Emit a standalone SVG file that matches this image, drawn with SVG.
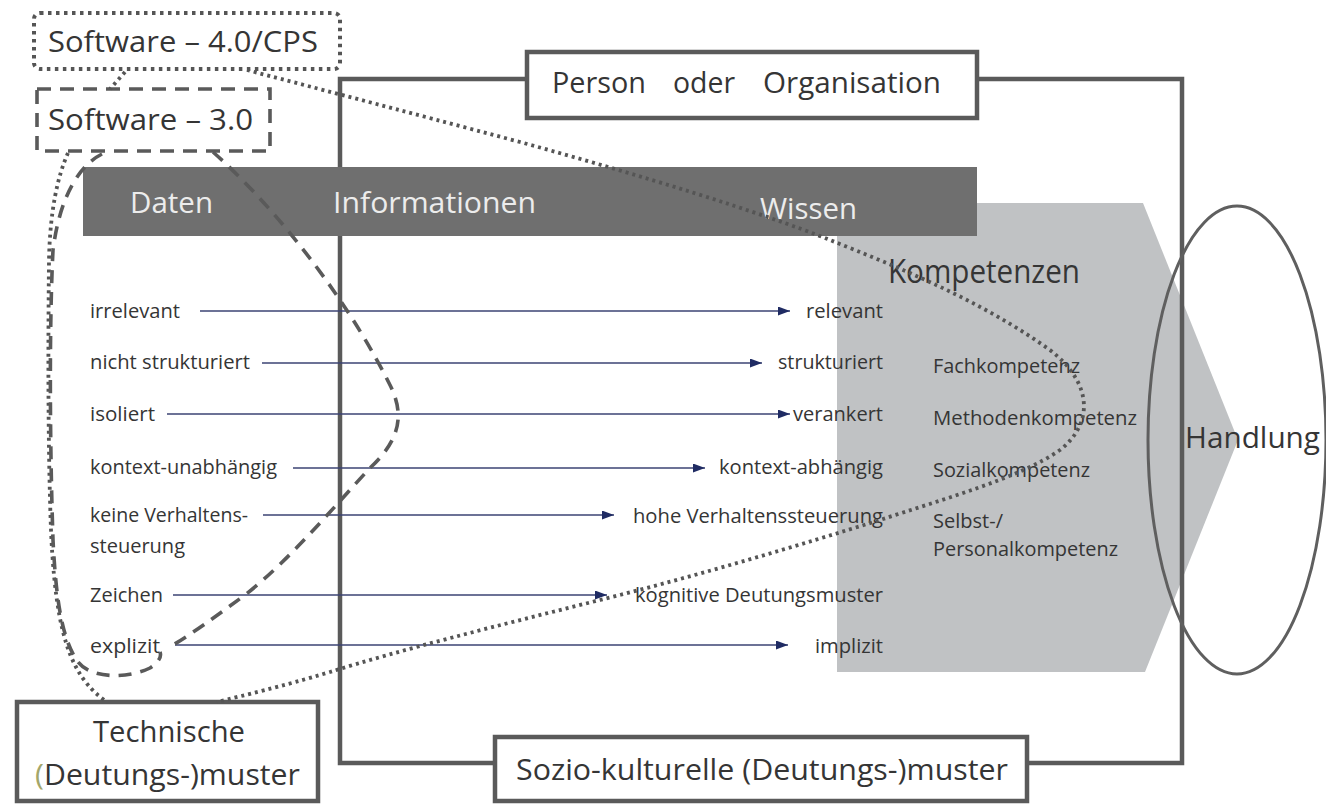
<svg xmlns="http://www.w3.org/2000/svg" width="1326" height="805" viewBox="0 0 1326 805">
<defs>
<style>
text{font-family:"Open Sans","Noto Sans","Liberation Sans",sans-serif;fill:#353535}
.big{font-size:29px}
.sm{font-size:20px}
.bar{fill:#ececec;font-size:29px}
.box{fill:#fff;stroke:#5a5a5a;stroke-width:4.5}
.flow{stroke:#3b4373;stroke-width:1.6;fill:none;marker-end:url(#ah)}
.dot{fill:none;stroke:#555;stroke-width:3.8;stroke-dasharray:3 4;stroke-linecap:butt}
.dash{fill:none;stroke:#5a5a5a;stroke-width:3.6;stroke-dasharray:13 9}
</style>
<marker id="ah" viewBox="0 0 10 10" refX="10" refY="5" markerWidth="12" markerHeight="9" markerUnits="userSpaceOnUse" orient="auto" preserveAspectRatio="none">
<path d="M0,0 L10,5 L0,10 z" fill="#1f2b63"/>
</marker>
</defs>
<rect width="1326" height="805" fill="#fff"/>

<g id="kompetenzen-shape">
<polygon points="837,203 1143,203 1238,440 1145,672 837,672" fill="#c0c2c4"/>
</g>

<g id="frame">
<rect x="340" y="79" width="842" height="684" fill="none" stroke="#5a5a5a" stroke-width="4.5"/>
</g>

<g id="bar">
<rect x="83" y="167" width="894" height="69" fill="#6f6f6f"/>
<text class="bar" x="130" y="213" textLength="83" lengthAdjust="spacingAndGlyphs">Daten</text>
<text class="bar" x="333" y="213" textLength="203" lengthAdjust="spacingAndGlyphs">Informationen</text>
<text class="bar" x="760" y="219" textLength="97" lengthAdjust="spacingAndGlyphs">Wissen</text>
</g>

<g id="handlung">
<ellipse cx="1237" cy="440" rx="89" ry="234" fill="none" stroke="#5f5f5f" stroke-width="3"/>
<text class="big" x="1185" y="448" textLength="135" lengthAdjust="spacingAndGlyphs">Handlung</text>
</g>

<g id="person">
<rect class="box" x="527" y="52" width="450" height="66"/>
<text class="big" y="93"><tspan x="552" textLength="94" lengthAdjust="spacingAndGlyphs">Person</tspan><tspan x="673" textLength="62" lengthAdjust="spacingAndGlyphs">oder</tspan><tspan x="763" textLength="178" lengthAdjust="spacingAndGlyphs">Organisation</tspan></text>
</g>

<g id="sozio">
<rect class="box" x="495" y="737" width="532" height="64"/>
<text class="big" x="516" y="780" textLength="492" lengthAdjust="spacingAndGlyphs">Sozio-kulturelle (Deutungs-)muster</text>
</g>

<g id="technische">
<rect class="box" x="17" y="702" width="301" height="99"/>
<text class="big" x="93" y="742" textLength="152" lengthAdjust="spacingAndGlyphs">Technische</text>
<text class="big" x="35" y="785" textLength="265" lengthAdjust="spacingAndGlyphs"><tspan fill="#a3a66a">(</tspan>Deutungs-)muster</text>
</g>

<g id="software40">
<rect x="34" y="13" width="306" height="56" rx="6" fill="none" stroke="#555" stroke-width="4" stroke-dasharray="3.5 4.5"/>
<text class="big" x="48" y="52" textLength="270" lengthAdjust="spacingAndGlyphs">Software – 4.0/CPS</text>
</g>

<g id="software30">
<rect x="37" y="89" width="233" height="62" fill="none" stroke="#5a5a5a" stroke-width="3.6" stroke-dasharray="14 9"/>
<text class="big" x="48" y="130" textLength="205" lengthAdjust="spacingAndGlyphs">Software – 3.0</text>
</g>

<g id="kompetenzen">
<text x="888" y="283" style="font-size:32px" textLength="192" lengthAdjust="spacingAndGlyphs">Kompetenzen</text>
<text class="sm" x="933" y="373" textLength="147" lengthAdjust="spacingAndGlyphs">Fachkompetenz</text>
<text class="sm" x="933" y="425" textLength="204" lengthAdjust="spacingAndGlyphs">Methodenkompetenz</text>
<text class="sm" x="933" y="477" textLength="157" lengthAdjust="spacingAndGlyphs">Sozialkompetenz</text>
<text class="sm" x="933" y="528" textLength="70" lengthAdjust="spacingAndGlyphs">Selbst-/</text>
<text class="sm" x="933" y="556" textLength="185" lengthAdjust="spacingAndGlyphs">Personalkompetenz</text>
</g>

<g id="left-labels">
<text class="sm" x="90" y="318" textLength="90" lengthAdjust="spacingAndGlyphs">irrelevant</text>
<text class="sm" x="90" y="369" textLength="160" lengthAdjust="spacingAndGlyphs">nicht strukturiert</text>
<text class="sm" x="90" y="421" textLength="65" lengthAdjust="spacingAndGlyphs">isoliert</text>
<text class="sm" x="90" y="474" textLength="187" lengthAdjust="spacingAndGlyphs">kontext-unabhängig</text>
<text class="sm" x="90" y="522" textLength="158" lengthAdjust="spacingAndGlyphs">keine Verhaltens-</text>
<text class="sm" x="90" y="553" textLength="95" lengthAdjust="spacingAndGlyphs">steuerung</text>
<text class="sm" x="90" y="602" textLength="73" lengthAdjust="spacingAndGlyphs">Zeichen</text>
<text class="sm" x="90" y="653" textLength="70" lengthAdjust="spacingAndGlyphs">explizit</text>
</g>

<g id="right-labels" text-anchor="end">
<text class="sm" x="883" y="318" textLength="77" lengthAdjust="spacingAndGlyphs">relevant</text>
<text class="sm" x="883" y="369" textLength="105" lengthAdjust="spacingAndGlyphs">strukturiert</text>
<text class="sm" x="883" y="421" textLength="90" lengthAdjust="spacingAndGlyphs">verankert</text>
<text class="sm" x="883" y="474" textLength="164" lengthAdjust="spacingAndGlyphs">kontext-abhängig</text>
<text class="sm" x="883" y="523" textLength="250" lengthAdjust="spacingAndGlyphs">hohe Verhaltenssteuerung</text>
<text class="sm" x="883" y="602" textLength="248" lengthAdjust="spacingAndGlyphs">kognitive Deutungsmuster</text>
<text class="sm" x="883" y="653" textLength="68" lengthAdjust="spacingAndGlyphs">implizit</text>
</g>

<g id="connectors">
<line class="flow" x1="200" y1="311" x2="790" y2="311"/>
<line class="flow" x1="262" y1="363" x2="762" y2="363"/>
<line class="flow" x1="167" y1="414" x2="790" y2="414"/>
<line class="flow" x1="293" y1="468" x2="705" y2="468"/>
<line class="flow" x1="263" y1="515" x2="614" y2="515"/>
<line class="flow" x1="173" y1="595" x2="607" y2="595"/>
<line class="flow" x1="175" y1="645" x2="788" y2="645"/>

<path class="dot" d="M247,70 C300,84 400,110 520,142 C640,175 760,212 830,240 C900,268 980,300 1050,350 C1095,385 1092,425 1060,450 C1020,478 940,500 880,520 C800,545 700,575 600,600 C500,625 400,650 330,672 C280,687 245,695 217,702"/>
<path class="dot" d="M125,72 L110,89"/>
<path class="dot" d="M68,153 C58,175 50,210 49,260 C48,350 48,450 51,530 C54,600 62,640 75,665 C85,685 97,695 107,702"/>
<path class="dash" d="M213,152 C250,185 285,225 315,265 C345,305 370,345 390,385 C405,415 400,440 370,468 C340,500 290,560 245,595 C215,617 190,635 173,645"/>
<path class="dash" d="M102,154 C80,165 60,195 53,250 C49,330 50,450 53,540 C56,600 62,640 78,662 C92,680 130,678 150,668 C158,663 162,657 160,652"/>
</g>
</svg>
